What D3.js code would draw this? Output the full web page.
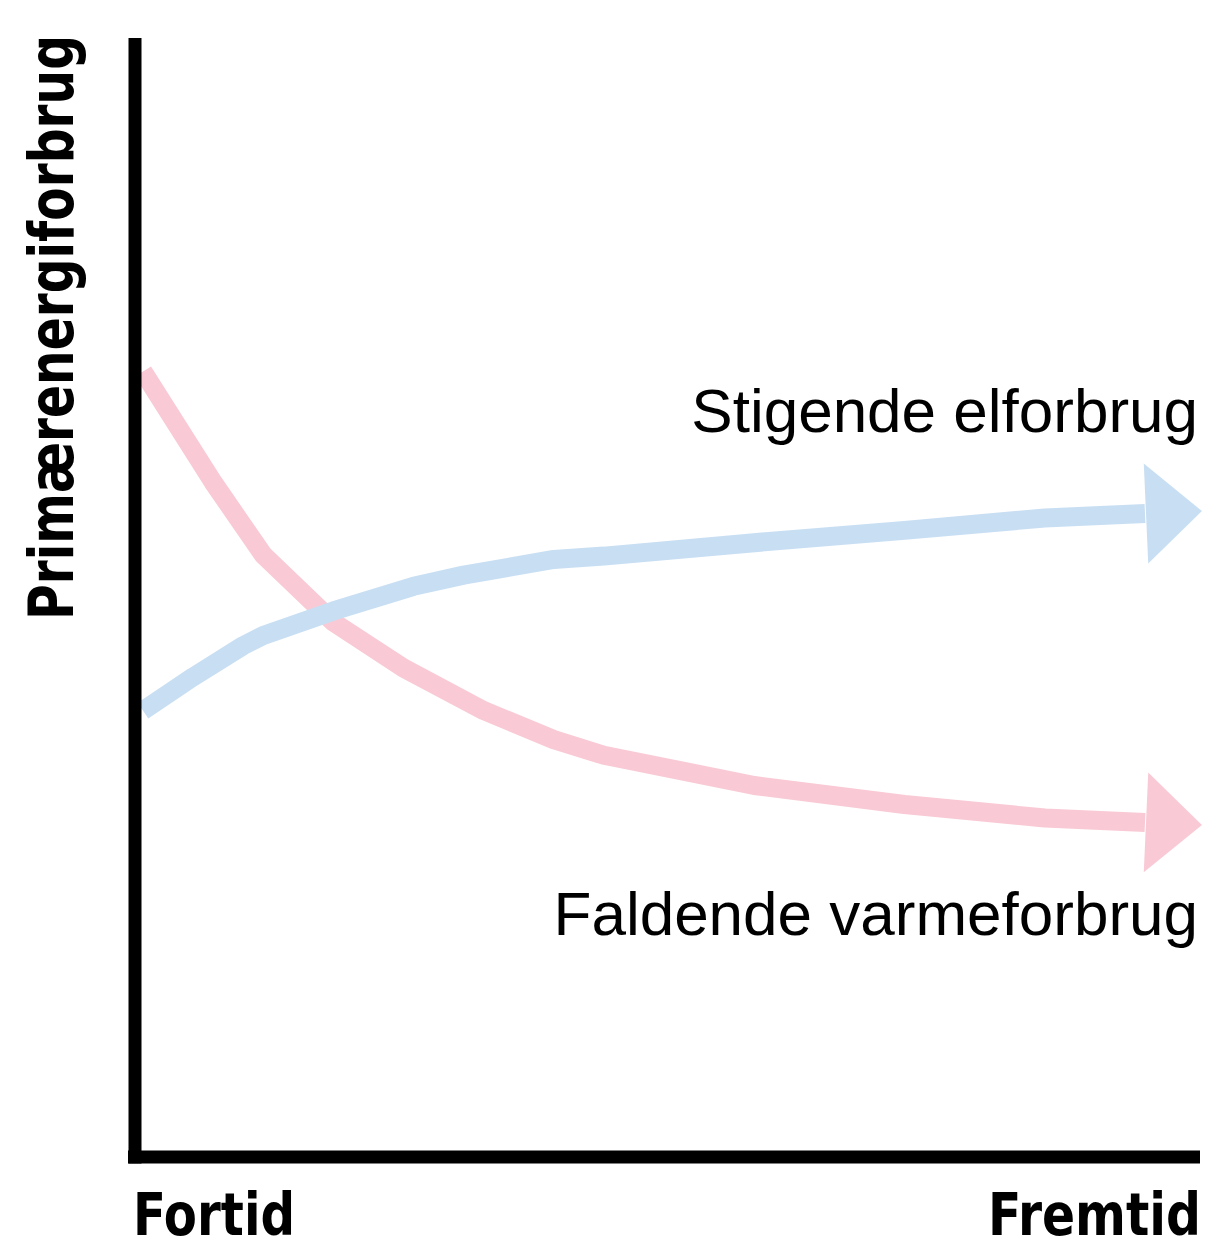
<!DOCTYPE html>
<html>
<head>
<meta charset="utf-8">
<script src="https://cdn.jsdelivr.net/npm/d3@7"></script>
<style>
  body { margin: 0; background: #fff; }
</style>
</head>
<body>
<div id="chart"></div>
<script>
// tid (0 = fortid, 100 = fremtid) and relative forbrug
const tid = [0, 7, 12, 19, 26, 34, 41, 46, 61, 76, 90, 100];
const varme = [70.2, 60.3, 53.8, 47.8, 43.7, 39.9, 37.3, 35.9, 33.2, 31.5, 30.3, 29.9];
const tidEl = [0, 5, 10, 12, 19, 27, 32, 41, 46, 61, 76, 90, 100];
const el = [39.9, 42.9, 45.7, 46.6, 48.8, 51.0, 52.0, 53.4, 53.7, 54.9, 56.0, 57.1, 57.5];

const yLabel = "Primærenergiforbrug";
const xLabels = ["Fortid", "Fremtid"];
const seriesLabels = ["Stigende elforbrug", "Faldende varmeforbrug"];

const width = 1208;
const height = 1250;

const pink = "#f9cad5";
const blue = "#c8dff3";

const svg = d3.select("#chart")
  .append("svg")
  .attr("width", width)
  .attr("height", height);

const x = d3.scaleLinear().domain([0, 100]).range([143, 1145]);
const y = d3.scaleLinear().domain([0, 100]).range([1157, 38]);

const line = d3.line()
  .x(d => x(d[0]))
  .y(d => y(d[1]));

function drawSeries(xs, ys, color) {
  const pts = xs.map((t, i) => [t, ys[i]]);
  svg.append("path")
    .datum(pts)
    .attr("fill", "none")
    .attr("stroke", color)
    .attr("stroke-width", 19)
    .attr("stroke-linejoin", "round")
    .attr("d", line);

  // arrow head at the end of the line
  const a = pts[pts.length - 2], b = pts[pts.length - 1];
  const ang = Math.atan2(y(b[1]) - y(a[1]), x(b[0]) - x(a[0])) * 180 / Math.PI;
  svg.append("path")
    .attr("d", "M0,-50 L56,0 L0,50 Z")
    .attr("fill", color)
    .attr("transform", `translate(${x(b[0]) + 1},${y(b[1])}) rotate(${ang})`);
}

drawSeries(tid, varme, pink);
drawSeries(tidEl, el, blue);

// axes
const x0 = 135;
svg.append("line")
  .attr("x1", x0).attr("x2", x0)
  .attr("y1", y(100)).attr("y2", y(0) + 6.5)
  .attr("stroke", "#000").attr("stroke-width", 13);
svg.append("line")
  .attr("x1", x0 - 7).attr("x2", 1200)
  .attr("y1", y(0)).attr("y2", y(0))
  .attr("stroke", "#000").attr("stroke-width", 13);

const boldFont = "'DejaVu Sans Condensed', 'Liberation Sans Narrow', sans-serif";

function boldText(transform, len, str) {
  svg.append("text")
    .attr("transform", transform)
    .attr("font-family", boldFont)
    .attr("font-weight", "bold")
    .attr("font-size", 54)
    .attr("textLength", len)
    .attr("lengthAdjust", "spacingAndGlyphs")
    .text(str);
}

boldText("translate(73,620) rotate(-90) scale(1,1.14)", 585, yLabel);
boldText("translate(133,1235) scale(1,1.1)", 162, xLabels[0]);
boldText("translate(988,1235) scale(1,1.1)", 213, xLabels[1]);

svg.append("text")
  .attr("x", 1198).attr("y", 432)
  .attr("text-anchor", "end")
  .attr("font-family", "'Liberation Sans', Arial, sans-serif")
  .attr("font-size", 62)
  .text(seriesLabels[0]);

svg.append("text")
  .attr("x", 1198).attr("y", 935)
  .attr("text-anchor", "end")
  .attr("font-family", "'Liberation Sans', Arial, sans-serif")
  .attr("font-size", 62)
  .text(seriesLabels[1]);
</script>
</body>
</html>
